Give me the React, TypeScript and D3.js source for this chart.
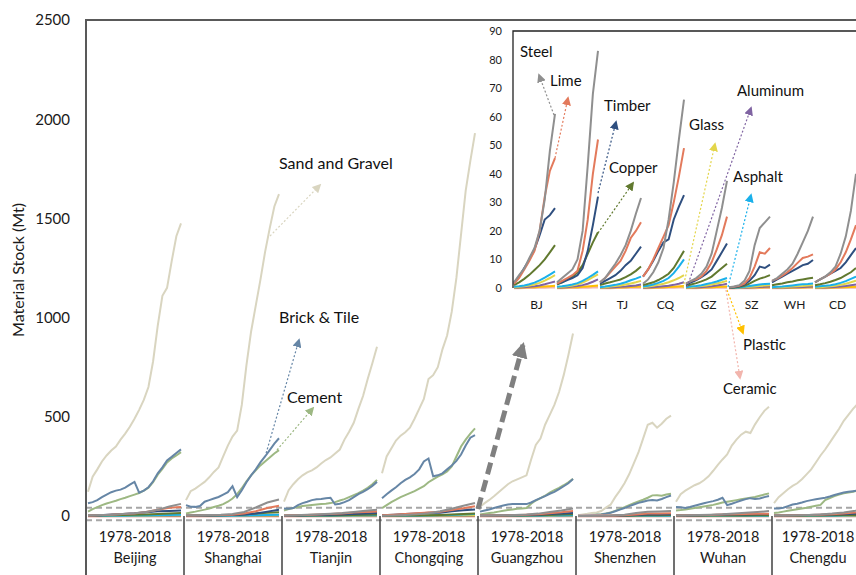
import React, { useEffect, useRef } from "react";
import * as d3 from "d3";

// cities and periods
const cities = ["Beijing", "Shanghai", "Tianjin", "Chongqing", "Guangzhou", "Shenzhen", "Wuhan", "Chengdu"];
const cityCodes = ["BJ", "SH", "TJ", "CQ", "GZ", "SZ", "WH", "CD"];
const period = "1978-2018";
const bigYears = [1978, 1980, 1982, 1984, 1986, 1988, 1990, 1992, 1994, 1996, 1998, 2000, 2002, 2004, 2006, 2008, 2010, 2012, 2014, 2016, 2018];
const smallYears = [1978, 1983, 1988, 1993, 1998, 2003, 2008, 2013, 2018];
const mainTicks = [0, 500, 1000, 1500, 2000, 2500];
const insetTicks = [0, 10, 20, 30, 40, 50, 60, 70, 80, 90];

// big materials (Mt), one row per city, every 2 years
const sandGravel = [
  [122, 198, 235, 275, 305, 330, 350, 385, 415, 450, 490, 535, 585, 650, 780, 960, 1110, 1150, 1285, 1410, 1475],
  [80, 125, 138, 155, 172, 195, 222, 245, 300, 355, 400, 430, 560, 760, 930, 1060, 1190, 1330, 1450, 1560, 1622],
  [72, 130, 160, 185, 205, 220, 230, 245, 265, 282, 295, 315, 335, 385, 425, 470, 540, 605, 690, 770, 853],
  [215, 300, 340, 380, 405, 422, 445, 490, 540, 590, 690, 710, 750, 840, 910, 1030, 1200, 1420, 1640, 1790, 1930],
  [47, 65, 81, 100, 120, 140, 160, 175, 185, 195, 205, 285, 358, 390, 460, 510, 560, 625, 710, 810, 920],
  [4, 8, 11, 15, 18, 25, 42, 57, 95, 128, 165, 210, 265, 320, 390, 460, 470, 445, 465, 490, 506],
  [72, 110, 128, 142, 155, 165, 180, 200, 228, 258, 285, 310, 355, 385, 410, 425, 418, 462, 498, 530, 551],
  [65, 95, 115, 135, 152, 165, 185, 210, 235, 270, 305, 335, 370, 405, 440, 480, 510, 540, 565, 600, 630],
];
const brickTile = [
  [64, 70, 80, 95, 108, 120, 128, 133, 143, 158, 172, 118, 128, 145, 175, 215, 245, 280, 298, 318, 336],
  [55, 47, 46, 50, 72, 80, 88, 96, 108, 120, 150, 95, 130, 170, 205, 235, 270, 300, 332, 365, 392],
  [38, 36, 40, 55, 65, 72, 80, 84, 86, 90, 92, 58, 62, 70, 80, 95, 110, 122, 135, 152, 172],
  [90, 110, 128, 145, 165, 182, 195, 212, 235, 275, 290, 200, 205, 215, 235, 255, 278, 310, 355, 395, 408],
  [22, 28, 33, 40, 47, 53, 58, 60, 60, 60, 60, 68, 80, 90, 100, 112, 122, 135, 150, 165, 186],
  [2, 3, 4, 5, 6, 8, 12, 16, 24, 32, 40, 50, 58, 66, 72, 78, 80, 78, 86, 95, 103],
  [45, 44, 40, 45, 52, 58, 64, 70, 75, 82, 92, 55, 62, 70, 78, 85, 90, 86, 88, 95, 101],
  [38, 38, 42, 50, 58, 62, 68, 75, 80, 84, 88, 92, 98, 106, 112, 118, 122, 125, 128, 132, 136],
];
const cement = [
  [22, 35, 45, 55, 63, 70, 77, 85, 92, 100, 108, 116, 128, 143, 170, 208, 238, 270, 290, 305, 322],
  [13, 18, 22, 27, 32, 38, 45, 52, 60, 72, 88, 110, 140, 175, 205, 230, 255, 275, 295, 315, 332],
  [28, 35, 40, 45, 50, 53, 56, 58, 60, 62, 65, 70, 78, 85, 95, 105, 115, 128, 142, 160, 182],
  [40, 55, 70, 82, 95, 105, 115, 125, 138, 150, 170, 185, 198, 210, 225, 250, 300, 350, 385, 415, 442],
  [8, 12, 15, 18, 22, 26, 30, 33, 36, 38, 40, 62, 78, 90, 102, 118, 130, 142, 155, 170, 187],
  [2, 3, 4, 5, 7, 9, 13, 18, 26, 35, 44, 55, 64, 73, 82, 92, 104, 105, 102, 108, 112],
  [28, 30, 33, 36, 40, 44, 48, 52, 56, 62, 68, 72, 76, 80, 84, 88, 92, 96, 102, 108, 114],
  [15, 18, 22, 26, 30, 34, 38, 42, 47, 52, 56, 80, 90, 100, 108, 114, 118, 122, 128, 135, 140],
];

// small materials (Mt), every 5 years
const steel = [
  [2, 4.5, 6.8, 10.5, 14, 20, 31, 48, 61],
  [2, 3.5, 5, 6.5, 10, 20, 43, 68, 83],
  [2, 3.5, 6, 8.5, 11.5, 15, 20, 26, 31.5],
  [1.5, 3, 5.5, 9, 14, 24, 37, 52, 66],
  [1.5, 2.5, 3.5, 5, 7.5, 12, 20, 28, 37.5],
  [0.3, 0.5, 1, 2.5, 6, 15, 21, 23, 25],
  [2.5, 3.5, 5, 6.5, 8.5, 12, 16, 20, 25],
  [2, 3, 4, 5.5, 7.5, 12, 18, 27, 40],
];
const lime = [
  [1.5, 3.5, 6.5, 9.5, 13, 20, 32, 41, 45.5],
  [1.5, 2.5, 3.5, 4.5, 6, 13, 24, 40, 52],
  [2, 3.5, 5.5, 7.5, 9.5, 13, 17.5, 20, 23],
  [4, 6.5, 10, 14, 18, 22, 30, 39, 49],
  [1.5, 2.5, 3, 4, 6, 9, 13.5, 18.5, 25],
  [0.2, 0.4, 0.8, 1.5, 3.5, 7.5, 12.5, 12, 14],
  [2.5, 3.3, 4.3, 5.5, 7, 8.8, 10.5, 11, 11.8],
  [2, 3, 4, 5, 6.5, 9, 12.5, 17, 22],
];
const timber = [
  [1.5, 4, 7, 10, 13.5, 18.5, 24, 25.5, 28],
  [1.5, 2, 2.8, 3.5, 4.5, 7, 13, 22, 32],
  [1.5, 2.5, 3.5, 4.5, 6, 8, 9.5, 12, 14.5],
  [4, 6.5, 9.5, 13, 16, 17, 24, 28.5, 32.5],
  [1.2, 2, 2.8, 3.8, 5, 6.5, 9.5, 12.5, 15.6],
  [0.2, 0.3, 0.6, 1.2, 2.5, 4.5, 7.5, 7, 8.2],
  [2, 3, 4, 5, 6, 7, 8, 8.5, 9.8],
  [2, 3, 4, 5, 6, 7, 9, 11.5, 14],
];
const copper = [
  [1, 2, 3.2, 4.6, 6.3, 8, 10, 12.5, 15],
  [1.2, 2, 3, 4, 5.5, 8, 12, 16, 19.5],
  [1, 1.6, 2, 2.5, 3, 3.8, 4.8, 6, 7.5],
  [1, 1.5, 2, 2.8, 3.8, 5, 7, 10, 13],
  [0.8, 1.2, 1.7, 2.3, 3, 4, 5.5, 7, 8.5],
  [0.1, 0.2, 0.4, 0.8, 1.5, 2.5, 3.3, 3.8, 4.5],
  [1, 1.3, 1.6, 2, 2.3, 2.7, 3, 3.3, 3.6],
  [1, 1.3, 1.7, 2.2, 2.8, 3.5, 4.5, 5.5, 7],
];
const asphalt = [
  [0.4, 0.6, 0.9, 1.3, 1.9, 2.7, 3.6, 4.7, 5.8],
  [0.4, 0.6, 0.9, 1.2, 1.7, 2.5, 3.5, 4.6, 5.8],
  [0.3, 0.5, 0.8, 1.1, 1.5, 2, 2.7, 3.3, 4],
  [0.5, 0.8, 1.2, 1.8, 2.5, 3.5, 5.2, 7.5, 10],
  [0.3, 0.5, 0.7, 1, 1.4, 1.8, 2.3, 2.9, 3.5],
  [0.05, 0.1, 0.2, 0.4, 0.7, 1, 1.2, 1.4, 1.5],
  [0.3, 0.4, 0.5, 0.7, 0.9, 1.1, 1.3, 1.4, 1.6],
  [0.4, 0.6, 0.8, 1, 1.3, 1.8, 2.4, 3.2, 4],
];
const glass = [
  [0.2, 0.4, 0.6, 0.9, 1.2, 1.8, 2.6, 3.5, 4.5],
  [0.2, 0.4, 0.6, 0.9, 1.3, 1.9, 2.8, 3.8, 4.8],
  [0.2, 0.3, 0.5, 0.7, 0.9, 1.2, 1.6, 2, 2.5],
  [0.3, 0.5, 0.8, 1.1, 1.5, 2, 2.7, 3.5, 4.5],
  [0.2, 0.3, 0.5, 0.7, 0.9, 1.2, 1.6, 2, 2.5],
  [0.05, 0.1, 0.15, 0.25, 0.4, 0.55, 0.7, 0.85, 1],
  [0.2, 0.25, 0.3, 0.4, 0.5, 0.6, 0.7, 0.85, 1],
  [0.2, 0.3, 0.4, 0.6, 0.8, 1.1, 1.5, 2, 2.6],
];
const aluminum = [
  [0.1, 0.2, 0.3, 0.4, 0.6, 0.9, 1.3, 1.8, 2.3],
  [0.1, 0.2, 0.3, 0.5, 0.7, 1, 1.5, 2.2, 3],
  [0.1, 0.15, 0.2, 0.3, 0.4, 0.5, 0.7, 0.9, 1.2],
  [0.1, 0.2, 0.3, 0.4, 0.6, 0.8, 1.1, 1.5, 2],
  [0.1, 0.15, 0.2, 0.3, 0.45, 0.6, 0.85, 1.1, 1.5],
  [0.02, 0.05, 0.08, 0.12, 0.2, 0.28, 0.35, 0.42, 0.5],
  [0.1, 0.12, 0.15, 0.2, 0.25, 0.3, 0.35, 0.42, 0.5],
  [0.1, 0.15, 0.2, 0.28, 0.38, 0.5, 0.7, 0.95, 1.2],
];
const plastic = [
  [0.05, 0.1, 0.15, 0.22, 0.3, 0.4, 0.5, 0.62, 0.75],
  [0.05, 0.1, 0.15, 0.22, 0.3, 0.42, 0.55, 0.7, 0.85],
  [0.03, 0.06, 0.1, 0.14, 0.2, 0.26, 0.33, 0.4, 0.5],
  [0.05, 0.08, 0.12, 0.18, 0.25, 0.33, 0.42, 0.55, 0.7],
  [0.04, 0.07, 0.1, 0.15, 0.2, 0.28, 0.36, 0.45, 0.55],
  [0.01, 0.02, 0.04, 0.07, 0.1, 0.14, 0.18, 0.22, 0.25],
  [0.03, 0.05, 0.07, 0.1, 0.13, 0.16, 0.2, 0.24, 0.28],
  [0.03, 0.05, 0.08, 0.12, 0.16, 0.22, 0.3, 0.38, 0.48],
];
const ceramic = [
  [0.1, 0.12, 0.14, 0.17, 0.2, 0.24, 0.28, 0.32, 0.36],
  [0.1, 0.12, 0.14, 0.17, 0.2, 0.24, 0.28, 0.32, 0.36],
  [0.08, 0.1, 0.12, 0.14, 0.16, 0.19, 0.22, 0.25, 0.28],
  [0.1, 0.12, 0.14, 0.17, 0.2, 0.24, 0.28, 0.32, 0.36],
  [0.08, 0.1, 0.12, 0.14, 0.17, 0.2, 0.23, 0.27, 0.3],
  [0.02, 0.04, 0.06, 0.08, 0.1, 0.12, 0.14, 0.16, 0.18],
  [0.08, 0.1, 0.12, 0.14, 0.16, 0.18, 0.2, 0.22, 0.25],
  [0.08, 0.1, 0.12, 0.14, 0.17, 0.2, 0.23, 0.26, 0.3],
];

const bigSeries = [
  { name: "Sand and Gravel", color: "#d9d5c0", data: sandGravel },
  { name: "Cement", color: "#9db883", data: cement },
  { name: "Brick & Tile", color: "#6686a6", data: brickTile },
];
const smallSeries = [
  { name: "Ceramic", color: "#f2b5ad", data: ceramic, w: 3 },
  { name: "Plastic", color: "#ffc000", data: plastic, w: 2 },
  { name: "Aluminum", color: "#8064a2", data: aluminum, w: 2 },
  { name: "Glass", color: "#e3d54a", data: glass, w: 2 },
  { name: "Asphalt", color: "#1ab0ea", data: asphalt, w: 2 },
  { name: "Copper", color: "#61792f", data: copper, w: 2 },
  { name: "Timber", color: "#2f4f7f", data: timber, w: 2 },
  { name: "Lime", color: "#e37a5c", data: lime, w: 2 },
  { name: "Steel", color: "#8f8f8f", data: steel, w: 2 },
];

const App = () => {
  const ref = useRef<SVGSVGElement>(null);

  useEffect(() => {
    const width = 856;
    const height = 575;
    const font = "Lato, 'Open Sans', sans-serif";
    const svg = d3.select(ref.current);
    svg.selectAll("*").remove();
    svg.attr("width", width).attr("height", height);

    const colorOf = (name: string) =>
      [...bigSeries, ...smallSeries].find((s) => s.name === name)!.color;

    // arrow heads
    const defs = svg.append("defs");
    const arrowColors = [...bigSeries, ...smallSeries].map((s) => s.color).concat(["#808080"]);
    arrowColors.forEach((c, i) => {
      defs
        .append("marker")
        .attr("id", "ah" + i)
        .attr("viewBox", "0 0 10 10")
        .attr("refX", 8)
        .attr("refY", 5)
        .attr("markerUnits", "userSpaceOnUse")
        .attr("markerWidth", i === arrowColors.length - 1 ? 16 : 9)
        .attr("markerHeight", i === arrowColors.length - 1 ? 16 : 9)
        .attr("orient", "auto")
        .append("path")
        .attr("d", "M0,0 L10,5 L0,10 z")
        .attr("fill", c);
    });
    const markerFor = (c: string) => `url(#ah${arrowColors.indexOf(c)})`;

    // main chart scales
    const yMain = d3.scaleLinear().domain([0, 2500]).range([516, 20]);
    const xMain = d3.scaleBand().domain(cities).range([86, 870]).paddingInner(0);

    // dashed zoom band
    [42, -22].forEach((v) => {
      svg
        .append("line")
        .attr("x1", 86)
        .attr("x2", width)
        .attr("y1", yMain(v))
        .attr("y2", yMain(v))
        .attr("stroke", "#a6a6a6")
        .attr("stroke-width", 2)
        .attr("stroke-dasharray", "6 4");
    });

    // lines per city
    cities.forEach((city, ci) => {
      const x0 = xMain(city)!;
      const bw = xMain.bandwidth();
      const xYear = d3.scaleLinear().domain([1978, 2018]).range([x0 + 2, x0 + bw - 3]);
      const bigLine = d3
        .line<number>()
        .x((d, k) => xYear(bigYears[k]))
        .y((d) => yMain(d));
      const smallLine = d3
        .line<number>()
        .x((d, k) => xYear(smallYears[k]))
        .y((d) => yMain(d));
      bigSeries.forEach((s) => {
        svg
          .append("path")
          .attr("d", bigLine(s.data[ci]))
          .attr("fill", "none")
          .attr("stroke", s.color)
          .attr("stroke-width", 2);
      });
      smallSeries.forEach((s) => {
        svg
          .append("path")
          .attr("d", smallLine(s.data[ci]))
          .attr("fill", "none")
          .attr("stroke", s.color)
          .attr("stroke-width", s.w);
      });
    });

    // category boxes
    cities.forEach((city) => {
      const x0 = xMain(city)!;
      const cx = Math.min(x0 + xMain.bandwidth() / 2, 818);
      svg
        .append("line")
        .attr("x1", x0)
        .attr("x2", x0)
        .attr("y1", yMain(0))
        .attr("y2", height)
        .attr("stroke", "#404040")
        .attr("stroke-width", 1.5);
      svg
        .append("text")
        .attr("x", cx)
        .attr("y", 537)
        .attr("dy", "0.35em")
        .attr("text-anchor", "middle")
        .attr("font-family", font)
        .attr("font-size", 14.5)
        .attr("fill", "#1a1a1a")
        .text(period);
      svg
        .append("text")
        .attr("x", cx)
        .attr("y", 558)
        .attr("dy", "0.35em")
        .attr("text-anchor", "middle")
        .attr("font-family", font)
        .attr("font-size", 14.5)
        .attr("fill", "#1a1a1a")
        .text(city);
    });

    // frame
    svg
      .append("path")
      .attr("d", `M86,${height} L86,20 L${width},20`)
      .attr("fill", "none")
      .attr("stroke", "#595959")
      .attr("stroke-width", 2);

    // y axis
    const yAxis = svg
      .append("g")
      .attr("transform", "translate(86,0)")
      .call(
        d3
          .axisLeft(yMain)
          .tickValues(mainTicks)
          .tickFormat(d3.format("d"))
          .tickSize(0)
          .tickPadding(16)
      );
    yAxis.select(".domain").remove();
    yAxis.selectAll("text").attr("font-family", font).attr("font-size", 15).attr("fill", "#1a1a1a");

    svg
      .append("text")
      .attr("transform", "translate(18,270) rotate(-90)")
      .attr("text-anchor", "middle")
      .attr("dy", "0.35em")
      .attr("font-family", font)
      .attr("font-size", 16)
      .attr("fill", "#1a1a1a")
      .text("Material Stock (Mt)");

    // big zoom arrow
    svg
      .append("line")
      .attr("x1", 478)
      .attr("y1", 509)
      .attr("x2", 523)
      .attr("y2", 345)
      .attr("stroke", "#808080")
      .attr("stroke-width", 5)
      .attr("stroke-dasharray", "12 6")
      .attr("marker-end", markerFor("#808080"));

    const annotate = (
      label: string,
      tx: number,
      ty: number,
      a: [number, number, number, number],
      size = 16
    ) => {
      const c = colorOf(label);
      svg
        .append("line")
        .attr("x1", a[0])
        .attr("y1", a[1])
        .attr("x2", a[2])
        .attr("y2", a[3])
        .attr("stroke", c)
        .attr("stroke-width", 1.2)
        .attr("stroke-dasharray", "2 2")
        .attr("marker-end", markerFor(c));
      svg
        .append("text")
        .attr("x", tx)
        .attr("y", ty)
        .attr("dy", "0.35em")
        .attr("font-family", font)
        .attr("font-size", size)
        .attr("fill", "#111")
        .text(label);
    };

    annotate("Sand and Gravel", 279, 163, [270, 236, 320, 185]);
    annotate("Brick & Tile", 279, 317, [265, 457, 299, 340]);
    annotate("Cement", 287, 397, [277, 450, 313, 408]);

    // inset
    const yIn = d3.scaleLinear().domain([0, 90]).range([288, 31]);
    const xIn = d3.scaleBand().domain(cityCodes).range([513, 857]).paddingInner(0);
    svg.append("rect").attr("x", 513).attr("y", 31).attr("width", 350).attr("height", 257).attr("fill", "#fff");

    cityCodes.forEach((code, ci) => {
      const x0 = xIn(code)!;
      const xYear = d3.scaleLinear().domain([1978, 2018]).range([x0 + 1, x0 + xIn.bandwidth() - 1]);
      const line = d3
        .line<number>()
        .x((d, k) => xYear(smallYears[k]))
        .y((d) => yIn(d));
      smallSeries.forEach((s) => {
        svg
          .append("path")
          .attr("d", line(s.data[ci]))
          .attr("fill", "none")
          .attr("stroke", s.color)
          .attr("stroke-width", s.w);
      });
      svg
        .append("text")
        .attr("x", x0 + xIn.bandwidth() / 2 + 2)
        .attr("y", 305)
        .attr("dy", "0.35em")
        .attr("text-anchor", "middle")
        .attr("font-family", font)
        .attr("font-size", 12)
        .attr("fill", "#1a1a1a")
        .text(code);
    });

    svg
      .append("path")
      .attr("d", `M513,288 L513,31 L${width},31`)
      .attr("fill", "none")
      .attr("stroke", "#222")
      .attr("stroke-width", 1.3);

    const yAxisIn = svg
      .append("g")
      .attr("transform", "translate(513,0)")
      .call(d3.axisLeft(yIn).tickValues(insetTicks).tickSize(0).tickPadding(11));
    yAxisIn.select(".domain").remove();
    yAxisIn.selectAll("text").attr("font-family", font).attr("font-size", 11).attr("fill", "#1a1a1a");

    annotate("Steel", 520, 52, [554, 115, 539, 75], 15);
    annotate("Lime", 550, 81, [555, 158, 568, 98], 15);
    annotate("Timber", 604, 106, [598, 193, 616, 122], 15);
    annotate("Copper", 609, 168, [598, 233, 633, 183], 15);
    annotate("Glass", 689, 125, [683, 288, 715, 144], 15);
    annotate("Aluminum", 737, 91, [687, 287, 751, 108], 15);
    annotate("Asphalt", 733, 177, [728, 287, 751, 195], 15);
    annotate("Plastic", 743, 345, [727, 290, 743, 333], 15);
    annotate("Ceramic", 723, 389, [726, 290, 740, 378], 15);
  }, []);

  return (
    <div>
      <svg ref={ref} style={{ position: "absolute", left: 0, top: 0, background: "#fff" }} />
    </div>
  );
};

export default App;
